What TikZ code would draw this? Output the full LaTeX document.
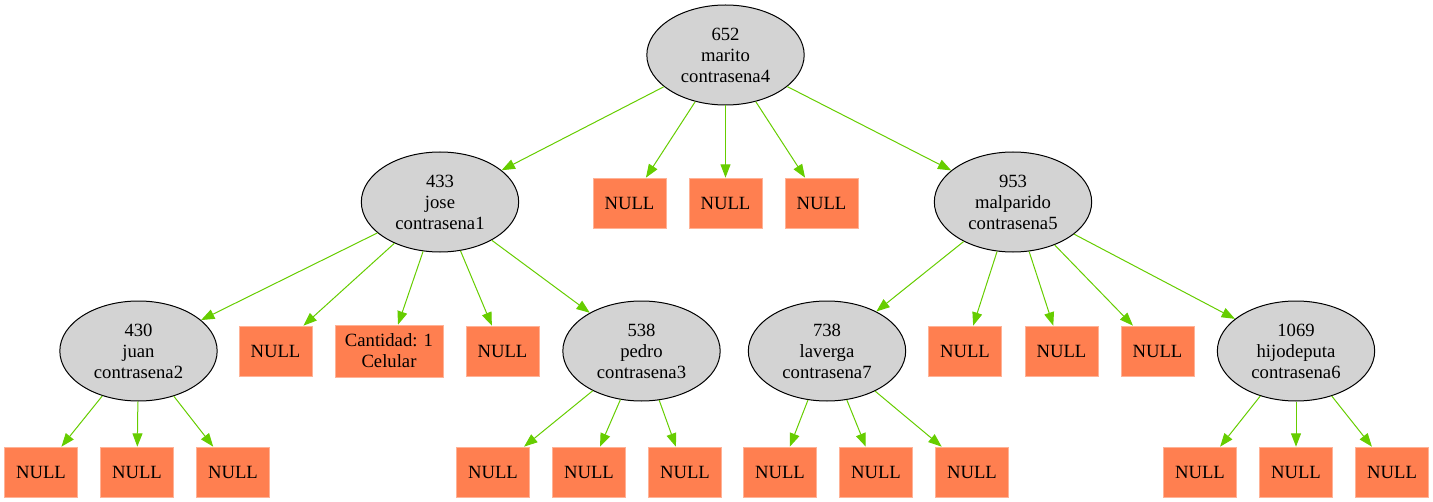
\documentclass[tikz,border=0pt]{standalone}
\usepackage{fontspec}
\setmainfont{Liberation Serif}
\usetikzlibrary{shapes.geometric,arrows.meta}
\definecolor{coral}{HTML}{FF7F50}
\definecolor{lgray}{HTML}{D3D3D3}
\definecolor{edgec}{HTML}{66CD00}
\begin{document}
\begin{tikzpicture}[x=0.75pt,y=-0.75pt,
  every node/.style={font=\fontsize{14}{15.75}\selectfont, align=center},
  rec/.style={ellipse, draw=black, fill=lgray, line width=0.75pt, minimum width=118pt, minimum height=75pt, inner sep=0pt},
  nul/.style={rectangle, fill=coral, draw=coral!60!white, line width=0.5pt, minimum width=54.75pt, minimum height=37.5pt, inner sep=0pt},
  conn/.style={draw=edgec, line width=0.75pt, -{Triangle[length=10pt,width=7.5pt]}}
]
\useasboundingbox (0,0) rectangle (1433,502);
% level 0
\node[rec] (r) at (725.5,55) {652\\marito\\contrasena4};
% level 1
\node[rec] (a) at (440,202) {433\\jose\\contrasena1};
\node[nul] (n1) at (629.5,203) {NULL};
\node[nul] (n2) at (725.5,203) {NULL};
\node[nul] (n3) at (821.5,203) {NULL};
\node[rec] (b) at (1013,202) {953\\malparido\\contrasena5};
% level 2
\node[rec] (c) at (138.5,351) {430\\juan\\contrasena2};
\node[nul] (a1) at (275.5,351) {NULL};
\node[nul, minimum width=81pt, minimum height=39pt] (a2) at (389,351) {Cantidad: 1\\Celular};
\node[nul] (a3) at (502.5,351) {NULL};
\node[rec] (d) at (641.5,351) {538\\pedro\\contrasena3};
\node[rec] (e) at (827,351) {738\\laverga\\contrasena7};
\node[nul] (b1) at (965,351) {NULL};
\node[nul] (b2) at (1061.5,351) {NULL};
\node[nul] (b3) at (1157.5,351) {NULL};
\node[rec] (f) at (1296,351) {1069\\hijodeputa\\contrasena6};
% level 3
\node[nul] (c1) at (41,472) {NULL};
\node[nul] (c2) at (137,472) {NULL};
\node[nul] (c3) at (233,472) {NULL};
\node[nul] (d1) at (493,472) {NULL};
\node[nul] (d2) at (589,472) {NULL};
\node[nul] (d3) at (685,472) {NULL};
\node[nul] (e1) at (780,472) {NULL};
\node[nul] (e2) at (876,472) {NULL};
\node[nul] (e3) at (972,472) {NULL};
\node[nul] (f1) at (1200,472) {NULL};
\node[nul] (f2) at (1296,472) {NULL};
\node[nul] (f3) at (1392,472) {NULL};
% edges
\foreach \s/\t in {r/a, r/n1, r/n2, r/n3, r/b,
  a/c, a/a1, a/a2, a/a3, a/d,
  b/e, b/b1, b/b2, b/b3, b/f,
  c/c1, c/c2, c/c3, d/d1, d/d2, d/d3,
  e/e1, e/e2, e/e3, f/f1, f/f2, f/f3}
  \draw[conn] (\s) -- (\t);
\end{tikzpicture}
\end{document}
